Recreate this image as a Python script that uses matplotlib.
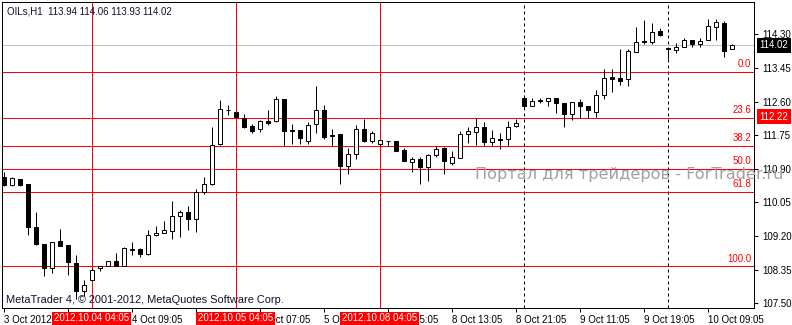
import matplotlib
matplotlib.use('Agg')
import matplotlib.pyplot as plt
from matplotlib.patches import Rectangle
from matplotlib.transforms import blended_transform_factory

plt.rcParams['font.family'] = ['Liberation Sans', 'DejaVu Sans']

# ---------------- data ----------------
opens = [110.69, 110.50, 110.64, 110.52, 109.42, 109.01, 108.39, 109.07, 108.98, 108.52,
         107.80, 108.10, 108.39, 108.44, 108.56, 108.45, 108.85, 108.87, 108.75, 109.22,
         109.27, 109.32, 109.70, 109.80, 109.63, 110.31, 110.52, 111.53, 112.39, 112.34,
         112.18, 111.98, 111.90, 112.11, 112.12, 112.66, 111.87, 111.87, 111.61, 112.03,
         112.40, 111.74, 111.78, 110.98, 111.27, 111.90, 111.61, 111.53, 111.61, 111.61,
         111.38, 111.07, 111.14, 110.94, 111.24, 111.43, 111.04, 111.17, 111.78, 111.84,
         111.95, 111.57, 111.65, 111.65, 111.99, 112.68, 112.50, 112.62, 112.61, 112.68,
         112.56, 112.28, 112.58, 112.49, 112.34, 112.78, 113.23, 113.21, 113.16, 113.86,
         114.13, 114.11, 114.38, 113.95, 113.91, 113.99, 114.17, 114.05, 114.17, 114.49,
         114.60, 113.94]
highs = [110.82, 110.69, 110.64, 110.52, 109.81, 109.01, 109.05, 109.38, 108.98, 108.71,
         108.09, 108.39, 108.44, 108.56, 108.77, 108.92, 109.04, 108.90, 109.35, 109.46,
         109.57, 110.08, 109.87, 109.96, 110.39, 110.69, 111.95, 112.63, 112.51, 112.37,
         112.29, 112.03, 112.13, 112.39, 112.75, 112.67, 112.03, 111.88, 112.08, 112.99,
         112.51, 111.90, 111.78, 111.42, 112.02, 112.15, 111.86, 111.62, 111.61, 111.61,
         111.42, 111.21, 111.19, 111.27, 111.49, 111.46, 111.35, 111.86, 111.96, 112.19,
         112.08, 111.88, 111.80, 112.11, 112.15, 112.70, 112.70, 112.70, 112.68, 112.70,
         112.56, 112.58, 112.66, 112.49, 112.89, 113.42, 113.42, 113.92, 113.93, 114.49,
         114.66, 114.58, 114.45, 113.95, 114.09, 114.20, 114.17, 114.21, 114.69, 114.69,
         114.64, 114.06]
lows = [110.47, 110.47, 110.46, 109.23, 108.98, 108.18, 108.27, 108.94, 108.22, 107.61,
        107.68, 108.07, 108.32, 108.44, 108.44, 108.45, 108.73, 108.66, 108.71, 109.19,
        109.27, 109.13, 109.17, 109.36, 109.29, 110.26, 110.48, 111.51, 112.27, 112.21,
        111.93, 111.81, 111.83, 112.01, 112.09, 111.48, 111.53, 111.52, 111.53, 111.80,
        111.65, 111.48, 110.51, 110.76, 111.15, 111.58, 111.56, 111.48, 111.48, 111.34,
        111.10, 110.83, 110.51, 110.59, 111.19, 110.77, 111.00, 111.17, 111.56, 111.50,
        111.48, 111.48, 111.40, 111.48, 111.95, 112.44, 112.50, 112.56, 112.50, 112.32,
        111.95, 112.13, 112.19, 112.18, 112.20, 112.66, 112.85, 113.02, 113.00, 113.86,
        114.05, 114.05, 114.26, 113.67, 113.83, 113.97, 113.97, 113.97, 114.16, 114.17,
        113.73, 113.93]
closes = [110.49, 110.67, 110.50, 109.42, 109.01, 108.39, 109.05, 108.94, 108.54, 107.80,
          107.97, 108.35, 108.43, 108.56, 108.44, 108.89, 108.86, 108.75, 109.22, 109.28,
          109.35, 109.70, 109.80, 109.64, 110.31, 110.52, 111.51, 112.42, 112.38, 112.21,
          111.95, 111.86, 112.10, 112.07, 112.66, 111.86, 111.86, 111.67, 112.01, 112.40,
          111.71, 111.75, 110.97, 111.27, 111.90, 111.61, 111.81, 111.62, 111.60, 111.34,
          111.10, 111.16, 110.94, 111.24, 111.39, 111.09, 111.19, 111.78, 111.85, 111.95,
          111.58, 111.67, 111.64, 111.96, 112.05, 112.49, 112.61, 112.63, 112.68, 112.57,
          112.28, 112.58, 112.50, 112.39, 112.78, 113.21, 113.18, 113.13, 113.89, 114.10,
          114.10, 114.37, 114.28, 113.94, 113.97, 114.17, 114.05, 114.14, 114.51, 114.62,
          113.89, 114.02]

price_ticks = [107.50, 108.35, 109.20, 110.05, 110.90, 111.75, 112.60, 113.45, 114.30]
time_tick_idx = [0, 8, 16, 24, 32, 40, 48, 56, 64, 72, 80, 88]
time_tick_labels = ['3 Oct 2012', '', '4 Oct 09:05', '',
                    '5 Oct 07:05', '5 Oct 15:05', '8 Oct 05:05', '8 Oct 13:05',
                    '8 Oct 21:05', '9 Oct 11:05', '9 Oct 19:05', '10 Oct 09:05']

fib_high = 113.36
fib_low = 108.43
fib_levels = [0.0, 23.6, 38.2, 50.0, 61.8, 100.0]
hline_price = 112.22
bid_price = 114.02

red_vlines_idx = [11, 29, 47]
red_vlines_labels = ['2012.10.04 04:05', '2012.10.05 04:05', '2012.10.08 04:05']
sep_vlines_idx = [65, 83]

title_text = 'OILs,H1  113.94 114.06 113.93 114.02'
copyright_text = 'MetaTrader 4, © 2001-2012, MetaQuotes Software Corp.'
watermark_text = 'Портал для трейдеров - ForTrader.ru'

# ---------------- figure ----------------
W, H = 792, 325
fig = plt.figure(figsize=(W / 100, H / 100), dpi=100)
# axes: 752 px wide starting at 2 px, 306 px tall (8 px per bar)
ax = fig.add_axes([2 / W, 17 / H, 752 / W, 306 / H])
ax.set_xlim(-0.1875, 93.8125)
ax.set_ylim(107.38, 115.12)

lw = 0.72
# vertical objects
for xi in red_vlines_idx:
    ax.axvline(xi, color='#ff0000', lw=lw, zorder=1, snap=True)
for xi in sep_vlines_idx:
    ax.axvline(xi, color='black', lw=lw, ls=(0, (3, 3)), zorder=1, snap=True)

# fibonacci levels (the 23.6 level coincides with the horizontal line at 112.22)
rng = fib_high - fib_low
for lvl in fib_levels:
    p = fib_high - rng * lvl / 100.0
    ax.axhline(p, color='#ff0000', lw=lw, zorder=1, snap=True)
    ax.annotate(f'{lvl:.1f}', xy=(93.5, p), xytext=(0, 2), textcoords='offset points',
                ha='right', va='bottom', color='#ff0000', fontsize=7)
ax.axhline(bid_price, color='#c0c0c0', lw=lw, zorder=0.9, snap=True)

# candles
bw = 0.5
for i, (o, h, l, c) in enumerate(zip(opens, highs, lows, closes)):
    ax.vlines(i, l, h, color='black', lw=lw, zorder=2, snap=True)
    fc = 'white' if c >= o else 'black'
    ax.add_patch(Rectangle((i - bw / 2, min(o, c)), bw, abs(c - o), facecolor=fc,
                           edgecolor='black', lw=lw, zorder=3, snap=True))

# axes styling
for s in ax.spines.values():
    s.set_color('black')
    s.set_linewidth(lw)
ax.yaxis.tick_right()
ax.set_yticks(price_ticks)
ax.set_yticklabels([f'{v:.2f}' for v in price_ticks])
ax.set_xticks(time_tick_idx)
ax.set_xticklabels(time_tick_labels, ha='left')
ax.tick_params(axis='both', length=3, width=lw, labelsize=7, colors='black', pad=2)
ax.tick_params(axis='y', pad=3)

# labels on axes
bt = blended_transform_factory(ax.transAxes, ax.transData)
ax.text(1.0075, bid_price, f'{bid_price:.2f}', transform=bt, ha='left', va='center',
        color='white', fontsize=7, clip_on=False, zorder=5,
        bbox=dict(facecolor='black', edgecolor='none', boxstyle='square,pad=0.25'))
ax.text(1.0075, hline_price, f'{hline_price:.2f}', transform=bt, ha='left', va='center',
        color='white', fontsize=7, clip_on=False, zorder=5,
        bbox=dict(facecolor='#ff0000', edgecolor='none', boxstyle='square,pad=0.25'))

bx = blended_transform_factory(ax.transData, ax.transAxes)
for xi, lab in zip(red_vlines_idx, red_vlines_labels):
    ax.text(xi, -0.033, lab, transform=bx, ha='center', va='center', color='white',
            fontsize=7, clip_on=False, zorder=5,
            bbox=dict(facecolor='#ff0000', edgecolor='none', boxstyle='square,pad=0.15'))

# texts
fig.text(7 / W, 1 - 11 / H, title_text, ha='left', va='center', fontsize=7, color='#101030')
fig.text(6 / W, 1 - 300 / H, copyright_text, ha='left', va='center', fontsize=7.9, color='#101030')
fig.text(475 / W, 1 - 175 / H, watermark_text, ha='left', va='center', fontsize=11.6,
         color='#a4a0a0', family=['DejaVu Sans'])

fig.savefig('out.png', dpi=100)
